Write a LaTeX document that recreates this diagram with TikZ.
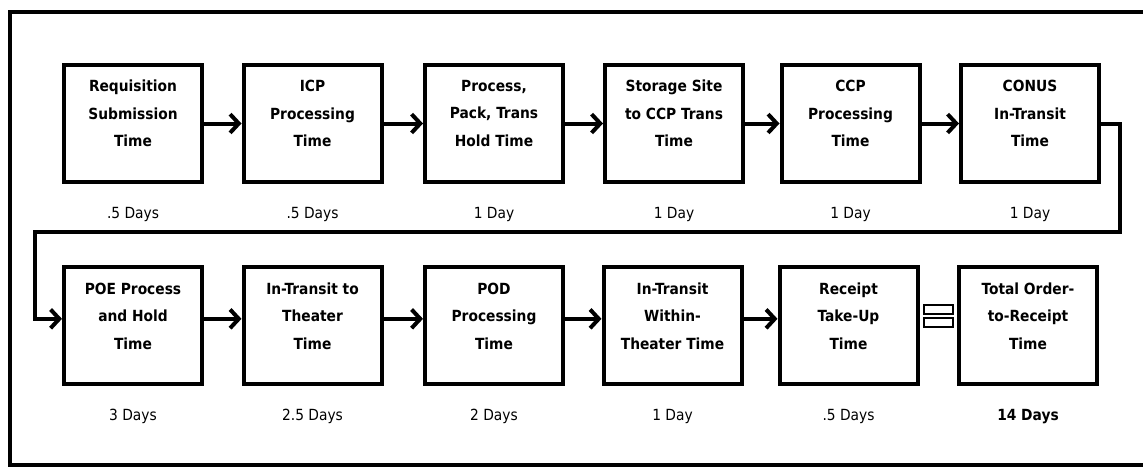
\documentclass[tikz,border=0pt]{standalone}
\usepackage{fontspec}
\setmainfont{DejaVu Sans Condensed}
\usetikzlibrary{arrows.meta,positioning}

\begin{document}
\begin{tikzpicture}[x=0.75pt, y=-0.75pt,
    stage/.style={draw, line width=3pt, minimum width=103.5pt, minimum height=87.75pt, inner sep=0pt},
    stagetext/.style={align=center, inner sep=0pt, font=\fontsize{11.5}{20.6}\selectfont\bfseries},
    days/.style={inner sep=0pt, below=17pt of #1, font=\fontsize{11.5}{14}\selectfont},
    flow/.style={line width=3pt, -{Straight Barb[length=6.5pt,width=14pt]}}]
    \useasboundingbox (0,0) rectangle (1143,468);

    % Frame
    \draw[line width=3pt] (10,12) rectangle (1170,465);

    % First row
    \node[stage] (b1) at (133,123.5) {};
    \node[stage] (b2) at (312.5,123.5) {};
    \node[stage] (b3) at (494,123.5) {};
    \node[stage] (b4) at (674,123.5) {};
    \node[stage] (b5) at (850.5,123.5) {};
    \node[stage] (b6) at (1030,123.5) {};
    \node[stagetext] at ([yshift=7.5pt]b1.center) {Requisition\\Submission\\Time};
    \node[stagetext] at ([yshift=7.5pt]b2.center) {ICP\\Processing\\Time};
    \node[stagetext] at ([yshift=7.5pt]b3.center) {Process,\\Pack, Trans\\Hold Time};
    \node[stagetext] at ([yshift=7.5pt]b4.center) {Storage Site\\to CCP Trans\\Time};
    \node[stagetext] at ([yshift=7.5pt]b5.center) {CCP\\Processing\\Time};
    \node[stagetext] at ([yshift=7.5pt]b6.center) {CONUS\\In-Transit\\Time};
    \node[days=b1] (d1) {.5 Days};
    \node[days=b2] (d2) {.5 Days};
    \node[days=b3] (d3) {1 Day};
    \node[days=b4] (d4) {1 Day};
    \node[days=b5] (d5) {1 Day};
    \node[days=b6] (d6) {1 Day};

    % Second row
    \node[stage] (b7) at (133,325.5) {};
    \node[stage] (b8) at (312.5,325.5) {};
    \node[stage] (b9) at (494,325.5) {};
    \node[stage] (b10) at (672.5,325.5) {};
    \node[stage] (b11) at (848.5,325.5) {};
    \node[stage] (b12) at (1028,325.5) {};
    \node[stagetext] at ([yshift=7pt]b7.center) {POE Process\\and Hold\\Time};
    \node[stagetext] at ([yshift=7pt]b8.center) {In-Transit to\\Theater\\Time};
    \node[stagetext] at ([yshift=7pt]b9.center) {POD\\Processing\\Time};
    \node[stagetext] at ([yshift=7pt]b10.center) {In-Transit\\Within-\\Theater Time};
    \node[stagetext] at ([yshift=7pt]b11.center) {Receipt\\Take-Up\\Time};
    \node[stagetext] at ([yshift=7pt]b12.center) {Total Order-\\to-Receipt\\Time};
    \node[days=b7] (d7) {3 Days};
    \node[days=b8] (d8) {2.5 Days};
    \node[days=b9] (d9) {2 Days};
    \node[days=b10] (d10) {1 Day};
    \node[days=b11] (d11) {.5 Days};
    \node[days=b12, font=\fontsize{11.5}{14}\selectfont\bfseries] (d12) {14 Days};

    % Arrows
    \draw[flow] (b1) -- (b2);
    \draw[flow] (b2) -- (b3);
    \draw[flow] (b3) -- (b4);
    \draw[flow] (b4) -- (b5);
    \draw[flow] (b5) -- (b6);
    \coordinate (wrapR) at (1120,232);
    \coordinate (wrapL) at (35,232);
    \draw[flow] (b6.east) -| (wrapR) -- (wrapL) |- ([yshift=5pt]b7.west);
    \draw[flow] ([yshift=5pt]b7.east) -- ([yshift=5pt]b8.west);
    \draw[flow] ([yshift=5pt]b8.east) -- ([yshift=5pt]b9.west);
    \draw[flow] ([yshift=5pt]b9.east) -- ([yshift=5pt]b10.west);
    \draw[flow] ([yshift=5pt]b10.east) -- ([yshift=5pt]b11.west);

    % Equals sign
    \draw[line width=1.5pt, fill=white] (924,305) rectangle (953,313.5);
    \draw[line width=1.5pt, fill=white] (924,318) rectangle (953,327);
\end{tikzpicture}
\end{document}
